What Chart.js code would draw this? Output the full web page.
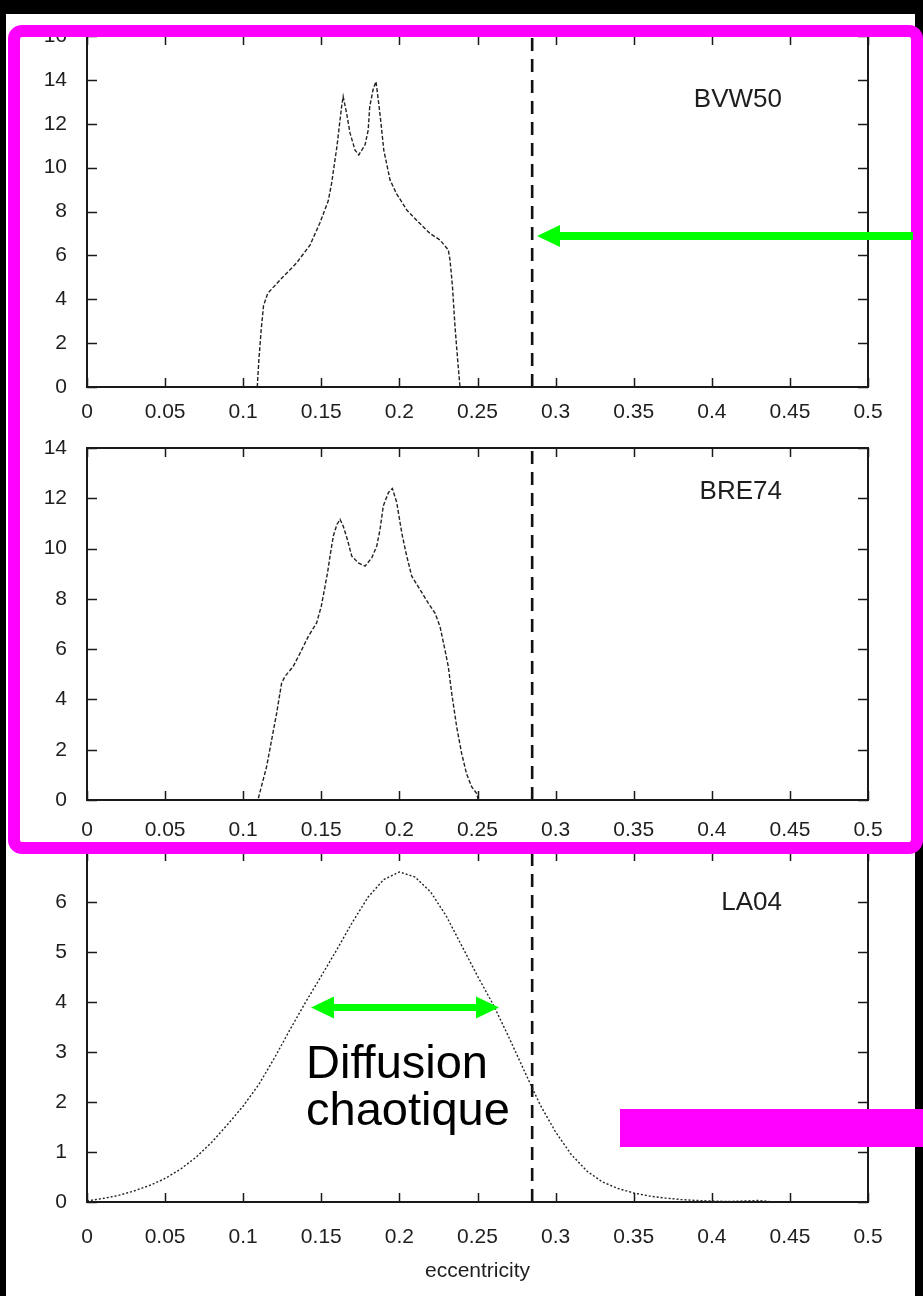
<!DOCTYPE html>
<html>
<head>
<meta charset="utf-8">
<script src="https://cdn.jsdelivr.net/npm/chart.js@4.4.1/dist/chart.umd.min.js"></script>
<style>
  html, body { margin: 0; padding: 0; background: #000; }
  #stage { position: relative; width: 923px; height: 1296px; background: #000; overflow: hidden; }
  #paper { position: absolute; left: 6px; top: 14px; width: 909px; height: 1282px; background: #fff; }
  .plot { position: absolute; left: 0; width: 923px; }
  .plot canvas { display: block; }
  #frameBox { position: absolute; left: 8px; top: 25px; width: 915px; height: 829px; box-sizing: border-box;
              border: 12px solid #ff00ff; border-radius: 14px; }
  #bar { position: absolute; left: 620px; top: 1109px; width: 303px; height: 38px; background: #ff00ff; }
  #note { position: absolute; left: 306px; top: 1038px; font: 47px 'Liberation Sans', Arial, sans-serif;
          line-height: 47px; color: #000; white-space: nowrap; }
  #arrows { position: absolute; left: 0; top: 0; pointer-events: none; }
</style>
</head>
<body>
<div id="stage">
  <div id="paper"></div>
  <div class="plot" style="top:0;height:440px"><canvas id="c1" width="923" height="440"></canvas></div>
  <div class="plot" style="top:412px;height:440px"><canvas id="c2" width="923" height="440"></canvas></div>
  <div class="plot" style="top:824px;height:472px"><canvas id="c3" width="923" height="472"></canvas></div>
  <div id="frameBox"></div>
  <div id="bar"></div>
  <canvas id="arrows" width="923" height="1296"></canvas>
  <div id="note">Diffusion<br>chaotique</div>
</div>
<script>
// ---- eccentricity axis -------------------------------------------------
const xTickLabels = ['0', '0.05', '0.1', '0.15', '0.2', '0.25', '0.3', '0.35', '0.4', '0.45', '0.5'];
const criticalEcc = 0.285;

// ---- BVW50 solution ----------------------------------------------------
const bvw50Ecc = [0.1090, 0.1100, 0.1115, 0.1130, 0.1157, 0.1236, 0.1340, 0.1428, 0.1490, 0.1545, 0.1566,
                  0.1600, 0.1630, 0.1640, 0.1662, 0.1684, 0.1716, 0.1740, 0.1780, 0.1800, 0.1810, 0.1833,
                  0.1850, 0.1865, 0.1880, 0.1900, 0.1940, 0.1980, 0.2047, 0.2110, 0.2196, 0.2260, 0.2313,
                  0.2324, 0.2340, 0.2356, 0.2373, 0.2388];
const bvw50Val = [0.0, 1.2, 2.6, 3.7, 4.27, 4.88, 5.64, 6.47, 7.46, 8.5, 9.29,
                  10.96, 12.78, 13.24, 12.48, 11.57, 10.8, 10.58, 11.04, 11.7, 12.78, 13.6,
                  13.92, 13.09, 12.17, 10.8, 9.44, 8.83, 8.07, 7.6, 7.0, 6.7, 6.25,
                  5.79, 4.57, 2.75, 1.23, 0.0];

// ---- BRE74 solution ----------------------------------------------------
const bre74Ecc = [0.1097, 0.1150, 0.1182, 0.1214, 0.1246, 0.1268, 0.1320, 0.1364, 0.1417, 0.1470, 0.1500,
                  0.1520, 0.1540, 0.1556, 0.1577, 0.1600, 0.1620, 0.1640, 0.1667, 0.1695, 0.1737, 0.1780,
                  0.1823, 0.1855, 0.1876, 0.1897, 0.1930, 0.1955, 0.1983, 0.2015, 0.2042, 0.2079, 0.2132,
                  0.2185, 0.2228, 0.2260, 0.2292, 0.2313, 0.2335, 0.2367, 0.2399, 0.2430, 0.2463, 0.2495, 0.2505];
const bre74Val = [0.07, 1.33, 2.39, 3.45, 4.65, 4.92, 5.31, 5.84, 6.51, 7.04, 7.71,
                  8.37, 9.04, 9.71, 10.5, 10.96, 11.16, 10.9, 10.36, 9.7, 9.43, 9.3,
                  9.63, 10.1, 10.76, 11.7, 12.23, 12.39, 11.83, 10.63, 9.83, 8.9, 8.37,
                  7.83, 7.43, 6.9, 5.96, 5.31, 4.24, 2.9, 1.84, 1.04, 0.52, 0.26, 0.0];

// ---- LA04 solution -----------------------------------------------------
const la04Ecc = [0.00, 0.01, 0.02, 0.03, 0.04, 0.05, 0.06, 0.07, 0.08, 0.09, 0.10, 0.11, 0.12, 0.13, 0.14,
                 0.15, 0.16, 0.17, 0.18, 0.19, 0.20, 0.21, 0.22, 0.23, 0.24, 0.25, 0.26, 0.27, 0.28, 0.29,
                 0.30, 0.31, 0.32, 0.33, 0.34, 0.35, 0.36, 0.37, 0.38, 0.39, 0.40, 0.41, 0.42, 0.43, 0.44];
const la04Val = [0.02, 0.07, 0.13, 0.22, 0.33, 0.47, 0.66, 0.90, 1.20, 1.55, 1.92, 2.35, 2.88, 3.45, 4.00,
                 4.52, 5.05, 5.60, 6.10, 6.45, 6.60, 6.50, 6.20, 5.72, 5.12, 4.52, 3.95, 3.30, 2.62, 1.95,
                 1.40, 0.95, 0.62, 0.40, 0.27, 0.18, 0.12, 0.08, 0.05, 0.03, 0.02, 0.01, 0.02, 0.03, 0.0];

const yTicksTop = ['0', '2', '4', '6', '8', '10', '12', '14', '16'];
const yTicksMid = ['0', '2', '4', '6', '8', '10', '12', '14'];
const yTicksLow = ['0', '1', '2', '3', '4', '5', '6', ''];

const FONT = "'Liberation Sans', Arial, Helvetica, sans-serif";
const INK = '#1a1a1a';
const LABEL = '#1e1e1e';

function toPoints(xs, ys) { return xs.map((x, i) => ({ x: x, y: ys[i] })); }

// frame with inward ticks on all four sides plus the key label
const framePlugin = {
  id: 'gpFrame',
  afterDraw(chart, args, opts) {
    const { ctx, chartArea: a, scales: { x, y } } = chart;
    ctx.save();
    ctx.strokeStyle = INK;
    ctx.lineWidth = 1.5;
    ctx.beginPath();
    x.ticks.forEach(t => {
      const px = Math.round(x.getPixelForValue(t.value)) + 0.5;
      ctx.moveTo(px, a.bottom); ctx.lineTo(px, a.bottom - 9);
      ctx.moveTo(px, a.top); ctx.lineTo(px, a.top + 9);
    });
    y.ticks.forEach(t => {
      const py = Math.round(y.getPixelForValue(t.value)) + 0.5;
      ctx.moveTo(a.left, py); ctx.lineTo(a.left + 10, py);
      ctx.moveTo(a.right, py); ctx.lineTo(a.right - 10, py);
    });
    ctx.stroke();
    ctx.lineWidth = 2;
    ctx.strokeRect(a.left, a.top, a.right - a.left, a.bottom - a.top);
    ctx.fillStyle = LABEL;
    ctx.font = '26px ' + FONT;
    ctx.textAlign = 'right';
    ctx.textBaseline = 'middle';
    ctx.fillText(opts.key, a.right - 86, a.top + opts.keyOffset);
    ctx.restore();
  }
};

function makeChart(id, cfg) {
  const xOpts = {
    type: 'linear', min: 0, max: 0.5,
    grid: { display: false }, border: { display: false },
    ticks: {
      stepSize: 0.05, color: LABEL, font: { family: FONT, size: 21 }, padding: cfg.xPad,
      maxRotation: 0, autoSkip: false,
      callback: (v, i) => xTickLabels[i]
    },
    afterFit: s => { s.height = cfg.xHeight; }
  };
  if (cfg.xTitle) {
    xOpts.title = { display: true, text: cfg.xTitle, color: LABEL,
                    font: { family: FONT, size: 21 }, padding: { top: 0, bottom: 12 } };
  }
  return new Chart(document.getElementById(id), {
    type: 'line',
    data: {
      datasets: [
        { data: toPoints(cfg.ecc, cfg.val), borderColor: '#222', borderWidth: 1.4,
          borderDash: cfg.dash, pointRadius: 0, tension: 0, fill: false },
        { data: [{ x: criticalEcc, y: 0 }, { x: criticalEcc, y: cfg.yMax }], borderColor: '#111',
          borderWidth: 2.6, borderDash: [13, 8], pointRadius: 0, fill: false }
      ]
    },
    options: {
      responsive: false, animation: false, devicePixelRatio: 1,
      layout: { padding: { top: cfg.padTop, right: 55, left: 0, bottom: 0 } },
      plugins: { legend: { display: false }, tooltip: { enabled: false },
                 gpFrame: { key: cfg.key, keyOffset: cfg.keyOffset } },
      scales: {
        x: xOpts,
        y: {
          type: 'linear', min: 0, max: cfg.yMax,
          grid: { display: false }, border: { display: false },
          ticks: { stepSize: cfg.yStep, color: LABEL, font: { family: FONT, size: 21 }, padding: 12,
                   callback: (v, i) => cfg.yLabels[i] },
          afterFit: s => { s.width = 87; }
        }
      }
    },
    plugins: [framePlugin]
  });
}

makeChart('c1', { ecc: bvw50Ecc, val: bvw50Val, yMax: 16, yStep: 2, yLabels: yTicksTop,
                  padTop: 36, xHeight: 53, xPad: 5, key: 'BVW50', keyOffset: 64, dash: [4, 2] });
makeChart('c2', { ecc: bre74Ecc, val: bre74Val, yMax: 14, yStep: 2, yLabels: yTicksMid,
                  padTop: 36, xHeight: 52, xPad: 10, key: 'BRE74', keyOffset: 44, dash: [4, 2] });
makeChart('c3', { ecc: la04Ecc, val: la04Val, yMax: 7, yStep: 1, yLabels: yTicksLow,
                  padTop: 28, xHeight: 94, xPad: 15, key: 'LA04', keyOffset: 51, dash: [2, 2],
                  xTitle: 'eccentricity' });

// green pointers
(function () {
  const ctx = document.getElementById('arrows').getContext('2d');
  ctx.fillStyle = '#00ff00';
  function head(tipX, y, dir) {
    ctx.beginPath();
    ctx.moveTo(tipX, y);
    ctx.lineTo(tipX + dir * 23, y - 11);
    ctx.lineTo(tipX + dir * 23, y + 11);
    ctx.closePath();
    ctx.fill();
  }
  // single arrow toward the dashed line
  ctx.fillRect(555, 232, 358, 8);
  head(537, 236, 1);
  // double arrow across the bell
  ctx.fillRect(330, 1004, 150, 7);
  head(311, 1007.5, 1);
  head(499, 1007.5, -1);
})();
</script>
</body>
</html>
